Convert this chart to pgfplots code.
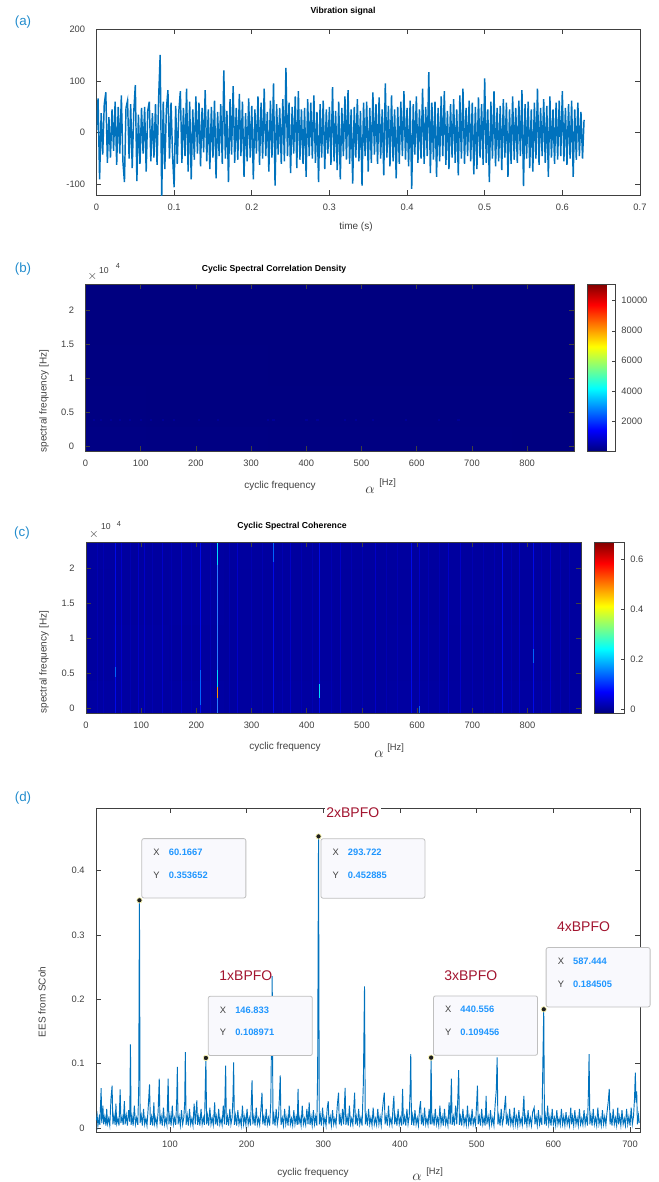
\documentclass[border=0pt]{standalone}
\usepackage{fontspec}
\setmainfont{Liberation Sans}
\usepackage{pgfplots}
\pgfplotsset{compat=1.18}
\pgfkeys{/pgf/number format/assume math mode=true, /pgf/number format/1000 sep={}}
\definecolor{mblue}{HTML}{0072BD}
\definecolor{tagblue}{HTML}{228CCD}
\definecolor{bpfo}{HTML}{A2142F}
\definecolor{tipval}{HTML}{1F96FF}
\definecolor{tipbg}{HTML}{F9F9FD}
\definecolor{axgray}{HTML}{404040}
\definecolor{sk0}{RGB}{0,0,178}
\definecolor{sk1}{RGB}{0,0,200}
\definecolor{sk2}{RGB}{0,10,232}
\definecolor{sk3}{RGB}{40,125,255}
\definecolor{skc}{RGB}{0,220,255}
\definecolor{sko}{RGB}{255,150,0}
\definecolor{skb}{RGB}{0,100,255}
\definecolor{rowb}{RGB}{0,0,150}
\pgfplotsset{
  mat/.style={scale only axis, anchor=south west,
    axis line style={axgray, line width=.5pt}, tick style={axgray, line width=.5pt},
    major tick length=3.5pt, tick align=inside,
    ticklabel style={font=\fontsize{7}{8}\selectfont, text=axgray},
    yticklabel style={xshift=-5pt}, xticklabel style={yshift=-3pt}},
  cbar/.style={colorbar style={at={(parent axis.north east)}, anchor=north west,
    scale only axis, width=#1, tick align=inside, ytick pos=right, yticklabel pos=right,
    major tick length=2.5pt, axis line style={axgray}, tick style={axgray},
    yticklabel style={font=\fontsize{7}{8}\selectfont, text=axgray, xshift=1pt},
    scaled y ticks=false}},
}
\tikzset{tip/.style={draw=black!25, fill=tipbg, rounded corners=1.5pt, line width=.6pt,
    minimum width=78pt, minimum height=44.5pt, inner sep=0pt}}
\newcommand\tipx[3]{%
  \node[anchor=west, text=axgray, font=\fontsize{7}{8}\selectfont] at ([xshift=5.5pt,yshift=-10.7pt]#1.north west) {X};
  \node[anchor=west, text=tipval, font=\fontsize{7}{8}\selectfont\bfseries] at ([xshift=17pt,yshift=-10.7pt]#1.north west) {#2};
  \node[anchor=west, text=axgray, font=\fontsize{7}{8}\selectfont] at ([xshift=5.5pt,yshift=-27.5pt]#1.north west) {Y};
  \node[anchor=west, text=tipval, font=\fontsize{7}{8}\selectfont\bfseries] at ([xshift=17pt,yshift=-27.5pt]#1.north west) {#3};
}
\begin{document}
\begin{tikzpicture}
\useasboundingbox (0,0) rectangle (493.5pt,-886.5pt);

% (a) vibration signal
\begin{axis}[mat, at={(72.375pt,-146.25pt)}, width=407.6pt, height=124.5pt,
  xmin=0, xmax=0.7, ymin=-120, ymax=200,
  xtick={0,0.1,0.2,0.3,0.4,0.5,0.6,0.7}, ytick={-100,0,100,200}]
\addplot[mblue, line width=1.1pt] coordinates {
(0.000,5) (0.002,66) (0.004,-90) (0.006,38) (0.008,-42) (0.010,55) (0.012,78) (0.014,-58) (0.016,30) (0.018,-48)
(0.020,45) (0.022,-35) (0.024,60) (0.026,-62) (0.028,50) (0.030,-40) (0.032,72) (0.034,-55) (0.036,-95) (0.038,48)
(0.040,62) (0.042,-50) (0.044,55) (0.046,-68) (0.048,40) (0.050,92) (0.052,-93) (0.054,35) (0.056,-60) (0.058,48)
(0.060,-40) (0.062,50) (0.064,-75) (0.066,42) (0.068,60) (0.070,-55) (0.072,38) (0.074,-48) (0.076,55) (0.078,-62)
(0.080,65) (0.082,150) (0.084,-125) (0.086,60) (0.088,-70) (0.090,45) (0.092,82) (0.094,-50) (0.096,58) (0.098,-45)
(0.100,-105) (0.102,52) (0.104,-60) (0.106,40) (0.108,80) (0.110,-58) (0.112,48) (0.114,-45) (0.116,85) (0.118,-75)
(0.120,60) (0.122,-90) (0.124,45) (0.126,-52) (0.128,70) (0.130,-40) (0.132,58) (0.134,-65) (0.136,48) (0.138,-38)
(0.140,82) (0.142,-55) (0.144,45) (0.146,-70) (0.148,50) (0.150,-48) (0.152,62) (0.154,-88) (0.156,40) (0.158,-45)
(0.160,55) (0.162,-60) (0.164,120) (0.166,-50) (0.168,42) (0.170,-95) (0.172,65) (0.174,-42) (0.176,90) (0.178,-58)
(0.180,48) (0.182,-52) (0.184,75) (0.186,-45) (0.188,60) (0.190,-85) (0.192,38) (0.194,-55) (0.196,66) (0.198,-48)
(0.200,52) (0.202,-90) (0.204,45) (0.206,-40) (0.208,70) (0.210,-62) (0.212,58) (0.214,-50) (0.216,85) (0.218,-45)
(0.220,40) (0.222,-75) (0.224,62) (0.226,-48) (0.228,95) (0.230,-102) (0.232,55) (0.234,-42) (0.236,48) (0.238,-60)
(0.240,65) (0.242,-55) (0.244,125) (0.246,-45) (0.248,58) (0.250,-78) (0.252,50) (0.254,-40) (0.256,70) (0.258,-68)
(0.260,80) (0.262,-52) (0.264,45) (0.266,-60) (0.268,48) (0.270,-85) (0.272,65) (0.274,-45) (0.276,58) (0.278,-50)
(0.280,72) (0.282,-58) (0.284,40) (0.286,-95) (0.288,55) (0.290,-48) (0.292,62) (0.294,-70) (0.296,45) (0.298,-40)
(0.300,50) (0.302,-62) (0.304,88) (0.306,-55) (0.308,42) (0.310,-72) (0.312,60) (0.314,-90) (0.316,48) (0.318,-45)
(0.320,70) (0.322,-52) (0.324,82) (0.326,-60) (0.328,45) (0.330,-98) (0.332,50) (0.334,-48) (0.336,65) (0.338,-55)
(0.340,42) (0.342,-102) (0.344,58) (0.346,-45) (0.348,60) (0.350,-75) (0.352,48) (0.354,-58) (0.356,78) (0.358,-42)
(0.360,55) (0.362,-60) (0.364,68) (0.366,-50) (0.368,45) (0.370,-82) (0.372,95) (0.374,-48) (0.376,52) (0.378,-65)
(0.380,72) (0.382,-55) (0.384,45) (0.386,-88) (0.388,50) (0.390,-60) (0.392,60) (0.394,-45) (0.396,80) (0.398,-52)
(0.400,48) (0.402,-65) (0.404,62) (0.406,-108) (0.408,55) (0.410,-42) (0.412,70) (0.414,-58) (0.416,45) (0.418,-50)
(0.420,85) (0.422,-60) (0.424,50) (0.426,-45) (0.428,117) (0.430,-78) (0.432,58) (0.434,-52) (0.436,60) (0.438,-85)
(0.440,48) (0.442,-55) (0.444,70) (0.446,-45) (0.448,80) (0.450,-62) (0.452,42) (0.454,-70) (0.456,55) (0.458,-48)
(0.460,65) (0.462,-58) (0.464,45) (0.466,-82) (0.468,72) (0.470,-50) (0.472,85) (0.474,-60) (0.476,48) (0.478,-45)
(0.480,62) (0.482,-55) (0.484,58) (0.486,-80) (0.488,50) (0.490,-70) (0.492,68) (0.494,-48) (0.496,55) (0.498,-62)
(0.500,105) (0.502,-58) (0.504,45) (0.506,-95) (0.508,60) (0.510,-50) (0.512,80) (0.514,-65) (0.516,48) (0.518,-55)
(0.520,52) (0.522,-72) (0.524,65) (0.526,-48) (0.528,58) (0.530,-85) (0.532,45) (0.534,-60) (0.536,70) (0.538,-52)
(0.540,48) (0.542,-58) (0.544,62) (0.546,-45) (0.548,82) (0.550,-103) (0.552,55) (0.554,-50) (0.556,60) (0.558,-68)
(0.560,45) (0.562,-75) (0.564,58) (0.566,-50) (0.568,85) (0.570,-62) (0.572,48) (0.574,-45) (0.576,65) (0.578,-58)
(0.580,52) (0.582,-85) (0.584,70) (0.586,-48) (0.588,45) (0.590,-60) (0.592,58) (0.594,-52) (0.596,62) (0.598,-45)
(0.600,80) (0.602,-55) (0.604,48) (0.606,-62) (0.608,55) (0.610,-50) (0.612,62) (0.614,-85) (0.616,45) (0.618,-52)
(0.620,58) (0.622,-45) (0.624,40) (0.626,-50) (0.628,25)};
\end{axis}

% (b) cyclic spectral correlation density
\begin{axis}[mat, axis on top, at={(64.125pt,-338.25pt)}, width=366.4pt, height=125.25pt,
  xmin=0, xmax=885, ymin=-650, ymax=23800,
  xtick={0,100,200,300,400,500,600,700,800},
  ytick={0,5000,10000,15000,20000}, yticklabels={0,0.5,1,1.5,2}, scaled y ticks=false,
  colormap/jet, point meta min=0, point meta max=11100,
  colorbar, cbar=21pt, colorbar style={xshift=1.5pt, height=125.25pt,
    ytick={2000,4000,6000,8000,10000}}]
\addplot[matrix plot*, mesh/cols=5, point meta=explicit] coordinates {
(0,0)[40] (221.25,0)[30] (442.5,0)[25] (663.75,0)[20] (885,0)[15]
(0,6000)[20] (221.25,6000)[15] (442.5,6000)[12] (663.75,6000)[10] (885,6000)[8]
(0,12000)[8] (221.25,12000)[6] (442.5,12000)[5] (663.75,12000)[5] (885,12000)[4]
(0,18000)[5] (221.25,18000)[4] (442.5,18000)[4] (663.75,18000)[3] (885,18000)[3]
(0,24000)[3] (221.25,24000)[3] (442.5,24000)[2] (663.75,24000)[2] (885,24000)[2]};
\addplot[only marks, mark=square*, mark size=.5pt, rowb] coordinates {
(15,3900) (28,3900) (46,3900) (62,3900) (80,3900) (100,3900) (118,3900) (140,3900)
(160,3900) (205,3900) (240,3900) (330,3900) (340,3900) (400,3900) (420,3900)
(470,3900) (490,3900) (520,3900) (580,3900) (640,3900) (675,3900)};
\end{axis}

% (c) cyclic spectral coherence
\begin{axis}[mat, axis on top, at={(64.5pt,-534.75pt)}, width=371.25pt, height=128.25pt,
  xmin=0, xmax=897, ymin=-650, ymax=23800,
  xtick={0,100,200,300,400,500,600,700,800},
  ytick={0,5000,10000,15000,20000}, yticklabels={0,0.5,1,1.5,2}, scaled y ticks=false,
  colormap/jet, point meta min=-0.015, point meta max=0.67,
  colorbar, cbar=22.5pt, colorbar style={xshift=1.5pt, height=128.25pt,
    ytick={0,0.2,0.4,0.6}}]
\addplot[matrix plot*, mesh/cols=10, point meta=explicit] coordinates {
(0,0)[0.008] (100,0)[0.007] (200,0)[0.008] (300,0)[0.006] (400,0)[0.007] (500,0)[0.006] (600,0)[0.007] (700,0)[0.006] (800,0)[0.007] (900,0)[0.006]
(0,8000)[0.006] (100,8000)[0.007] (200,8000)[0.006] (300,8000)[0.005] (400,8000)[0.006] (500,8000)[0.005] (600,8000)[0.006] (700,8000)[0.005] (800,8000)[0.006] (900,8000)[0.005]
(0,16000)[0.006] (100,16000)[0.006] (200,16000)[0.007] (300,16000)[0.005] (400,16000)[0.006] (500,16000)[0.005] (600,16000)[0.005] (700,16000)[0.006] (800,16000)[0.005] (900,16000)[0.005]
(0,24000)[0.007] (100,24000)[0.006] (200,24000)[0.007] (300,24000)[0.006] (400,24000)[0.006] (500,24000)[0.006] (600,24000)[0.006] (700,24000)[0.006] (800,24000)[0.006] (900,24000)[0.006]};
\addplot[sk0, line width=.45pt, unbounded coords=jump] coordinates {
(20,-700) (20,24000) (20,nan) (32,-700) (32,24000) (32,nan) (80,-700) (80,24000) (80,nan)
(120,-700) (120,24000) (120,nan) (155,-700) (155,24000) (155,nan) (190,-700) (190,24000) (190,nan)
(225,-700) (225,24000) (225,nan) (260,-700) (260,24000) (260,nan) (300,-700) (300,24000) (300,nan)
(320,-700) (320,24000) (320,nan) (355,-700) (355,24000) (355,nan) (390,-700) (390,24000) (390,nan)
(410,-700) (410,24000) (410,nan) (445,-700) (445,24000) (445,nan) (480,-700) (480,24000) (480,nan)
(500,-700) (500,24000) (500,nan) (545,-700) (545,24000) (545,nan) (565,-700) (565,24000) (565,nan)
(620,-700) (620,24000) (620,nan) (640,-700) (640,24000) (640,nan) (700,-700) (700,24000) (700,nan)
(720,-700) (720,24000) (720,nan) (740,-700) (740,24000) (740,nan) (770,-700) (770,24000) (770,nan)
(825,-700) (825,24000) (825,nan) (860,-700) (860,24000) (860,nan) (875,-700) (875,24000)};
\addplot[sk1, line width=.45pt, unbounded coords=jump] coordinates {
(64,-700) (64,24000) (64,nan) (94,-700) (94,24000) (94,nan) (105,-700) (105,24000) (105,nan)
(138,-700) (138,24000) (138,nan) (173,-700) (173,24000) (173,nan) (275,-700) (275,24000) (275,nan)
(370,-700) (370,24000) (370,nan) (460,-700) (460,24000) (460,nan) (525,-700) (525,24000) (525,nan)
(604,-700) (604,24000) (604,nan) (657,-700) (657,24000) (657,nan) (679,-700) (679,24000) (679,nan)
(785,-700) (785,24000) (785,nan) (842,-700) (842,24000)};
\addplot[sk2, line width=.5pt, unbounded coords=jump] coordinates {
(52.8,-700) (52.8,24000) (52.8,nan) (207,-700) (207,24000) (207,nan) (340,-700) (340,24000) (340,nan)
(423,-700) (423,24000) (423,nan) (589,-700) (589,24000) (589,nan) (755,-700) (755,24000) (755,nan)
(810,-700) (810,24000)};
\addplot[sk3, line width=.6pt] coordinates {(239,-700) (239,24000)};
\addplot[skb, line width=.6pt, unbounded coords=jump] coordinates {
(207,500) (207,5500) (207,nan) (810,6500) (810,8500) (810,nan) (340,21000) (340,24000) (340,nan)
(604,-700) (604,400) (604,nan) (52.8,4500) (52.8,6000)};
\addplot[skc, line width=.6pt, unbounded coords=jump] coordinates {
(239,3000) (239,5500) (239,nan) (239,20500) (239,24000) (239,nan) (423,1500) (423,3500)};
\addplot[sko, line width=.6pt] coordinates {(239,1500) (239,3000)};
\end{axis}

% (d) enhanced envelope spectrum
\begin{axis}[mat, clip mode=individual, at={(72pt,-849pt)}, width=408pt, height=243pt,
  xmin=3.5, xmax=713, ymin=-0.006, ymax=0.497,
  xtick={100,200,300,400,500,600,700}, ytick={0,0.1,0.2,0.3,0.4}]
\addplot[mblue, line width=.7pt] coordinates {
(4,0.012) (5,0.02) (6,0.004) (7.5,0.016) (8.5,0.005)
(10.2,0.062) (11,0.008) (12.5,0.035) (13.5,0.006) (15,0.018) (16.5,0.004) (17.5,0.03) (18.5,0.007)
(20,0.015) (21.5,0.004) (23,0.045) (24.5,0.066) (25.5,0.006) (27,0.02) (28.5,0.005) (29.5,0.038)
(30.5,0.007) (32,0.015) (33.5,0.004) (35,0.06) (36,0.008) (37.5,0.018) (39,0.005)
(40.5,0.042) (41.5,0.006) (43,0.02) (44.5,0.004) (46,0.028) (47.5,0.01) (48.4,0.130) (49.3,0.005)
(50.5,0.018) (52,0.004) (53.5,0.035) (55,0.006) (56.5,0.016) (58,0.005) (59.2,0.06) (60.1667,0.353652) (61,0.008)
(62.5,0.02) (64,0.004) (65.5,0.03) (67,0.006) (68.5,0.015) (70,0.004)
(71.5,0.03) (73.3,0.068) (74.5,0.005) (76,0.018) (77.5,0.004) (79,0.04)
(80,0.007) (81.5,0.016) (83,0.004) (84.5,0.025) (86,0.077) (87,0.006) (88.5,0.018)
(90,0.004) (91.5,0.032) (93,0.006) (94.5,0.015) (96,0.005) (97.6,0.077) (98.6,0.006)
(100,0.02) (101.5,0.004) (103,0.035) (104.5,0.006) (106,0.016) (107.5,0.005) (108.8,0.045) (109.6,0.095) (110.5,0.006)
(112,0.018) (113.5,0.004) (115,0.028) (116.5,0.006) (118,0.016) (119.2,0.04) (120,0.118) (121,0.005)
(122.5,0.02) (124,0.004) (125.5,0.03) (127,0.006) (128.5,0.015)
(130,0.004) (131.5,0.038) (133,0.006) (135,0.043) (136,0.005) (137.5,0.018) (139,0.004)
(140.5,0.03) (142,0.006) (143.5,0.016) (145,0.005) (146.833,0.108971) (147.8,0.006) (149,0.02)
(150.5,0.004) (152,0.032) (153.5,0.006) (155,0.016) (156.5,0.005) (158.3,0.04) (159.3,0.006)
(160.5,0.018) (162,0.004) (163.5,0.03) (165,0.006) (166.5,0.015) (168,0.005) (169.5,0.035)
(171,0.006) (172.6,0.097) (173.5,0.005) (175,0.018) (176.5,0.004) (178,0.03) (179.5,0.006)
(181,0.016) (182.2,0.05) (183,0.102) (184,0.005) (185.5,0.02) (187,0.004) (188.5,0.028)
(190,0.006) (191.5,0.015) (193,0.004) (194.5,0.035) (196,0.006) (197.5,0.018) (199,0.005)
(200.5,0.03) (202,0.006) (203.5,0.016) (205,0.004) (206.2,0.045) (207,0.074) (208,0.006) (209.5,0.018)
(211,0.004) (212.5,0.032) (214,0.006) (215.5,0.015) (217,0.005) (218.5,0.028) (220,0.055) (221,0.006)
(222.5,0.018) (224,0.004) (225.5,0.03) (227,0.006) (228.5,0.016)
(230,0.004) (231.5,0.04) (233.3,0.236) (234.3,0.006) (235.5,0.02) (237,0.004) (238.5,0.03)
(240,0.006) (241.5,0.018) (242.8,0.05) (243.8,0.082) (244.8,0.005) (246.5,0.016) (248,0.004) (249.5,0.03)
(251,0.006) (252.5,0.018) (254,0.004) (255.5,0.035) (257,0.006) (258.5,0.015)
(260,0.004) (261.5,0.028) (263,0.006) (264.5,0.018) (266,0.005) (267,0.061) (268,0.006) (269.5,0.016)
(271,0.004) (272.5,0.035) (274,0.006) (275.5,0.015) (277,0.005) (278.5,0.03)
(280,0.006) (281.6,0.04) (282.6,0.005) (284,0.018) (285.5,0.004) (287,0.028) (288.5,0.006)
(290,0.018) (291.5,0.004) (292.6,0.09) (293.722,0.452885) (294.7,0.006) (296,0.02) (297.5,0.004) (299,0.032)
(300.5,0.006) (302,0.016) (303.5,0.004) (305,0.03) (306.4,0.042) (307.4,0.006) (309,0.018)
(310.5,0.004) (312,0.028) (313.5,0.006) (315,0.015) (316.5,0.005) (318.2,0.035) (319.8,0.055) (320.8,0.006)
(322,0.018) (323.5,0.004) (325,0.03) (326.5,0.006) (328.4,0.0625) (329.4,0.005)
(331,0.018) (332.5,0.004) (334,0.035) (335.5,0.006) (337,0.015) (338.5,0.005)
(340.8,0.055) (341.8,0.006) (343,0.018) (344.5,0.004) (346,0.03) (347.5,0.006) (349,0.016)
(350.5,0.004) (352.2,0.07) (353.7,0.22) (354.7,0.006) (356,0.02) (357.5,0.004) (359,0.03)
(360.5,0.006) (362,0.016) (363.5,0.004) (365,0.032) (366.5,0.006) (368,0.015) (369.5,0.005)
(371,0.03) (372.5,0.006) (374,0.018) (375.5,0.004) (377,0.028) (378.5,0.045) (379.5,0.055) (380.5,0.006)
(382,0.018) (383.5,0.004) (385,0.035) (386.5,0.006) (388,0.015) (389.5,0.005)
(391,0.035) (392,0.05) (393,0.006) (394.5,0.018) (396,0.004) (397.5,0.03) (399,0.006)
(400.5,0.016) (402,0.004) (403.4,0.061) (404.4,0.006) (406,0.018) (407.5,0.004) (409,0.03)
(410.5,0.006) (412,0.018) (413.2,0.06) (414,0.115) (415,0.005) (416.5,0.02) (418,0.004) (419.5,0.028)
(421,0.006) (422.5,0.016) (424,0.004) (425.5,0.03) (426.8,0.042) (427.8,0.006) (429,0.018)
(430.5,0.004) (432,0.032) (433.5,0.006) (435,0.015) (436.5,0.005) (438,0.03) (439.5,0.006)
(440.556,0.109456) (441.5,0.006) (443,0.018) (444.5,0.004) (446,0.03) (447.5,0.006) (449,0.016)
(450.5,0.004) (452,0.035) (453.5,0.006) (455,0.018) (456.5,0.004) (458,0.03) (459.5,0.006)
(461,0.015) (462.5,0.004) (464,0.04) (465.5,0.006) (467,0.077) (468,0.005) (469.5,0.018)
(471,0.004) (472.5,0.035) (474,0.006) (475.5,0.05) (476.5,0.09) (477.5,0.005) (479,0.018)
(480.5,0.004) (482,0.03) (483.5,0.006) (485,0.016) (486.5,0.005) (488,0.035) (489.5,0.006)
(491,0.018) (492.5,0.004) (494,0.03) (495.5,0.006) (497,0.015) (498.5,0.005)
(500,0.04) (501,0.066) (502,0.006) (503.5,0.018) (505,0.004) (506.5,0.03) (508,0.006) (509.5,0.016)
(511,0.004) (512.3,0.05) (513.3,0.006) (515,0.018) (516.5,0.004) (518,0.028) (519.5,0.006)
(521,0.016) (522.5,0.004) (524,0.035) (525.6,0.06) (526.7,0.11) (527.7,0.006) (529,0.018)
(530.5,0.004) (532,0.03) (533.5,0.006) (535,0.015) (536.5,0.035) (537.7,0.05) (538.7,0.006)
(540,0.018) (541.5,0.004) (543,0.03) (544.5,0.006) (546,0.016) (547.5,0.004) (549,0.032)
(550.5,0.006) (552,0.018) (553.5,0.004) (555,0.028) (556.5,0.006) (558,0.015) (559.5,0.005)
(560.8,0.035) (561.6,0.05) (562.6,0.006) (564,0.018) (565.5,0.004) (567,0.028) (568.5,0.006)
(570,0.016) (571.5,0.004) (573,0.025) (575,0.032) (576,0.006) (577.5,0.018) (579,0.004)
(580.5,0.028) (582,0.006) (583.5,0.016) (585,0.005) (586.4,0.108) (587.444,0.184505) (588.4,0.006) (589.5,0.02)
(591,0.004) (592.5,0.035) (594,0.006) (595.5,0.018) (597,0.004) (598.5,0.03)
(600,0.006) (601.5,0.016) (603,0.004) (604.5,0.028) (606,0.006) (607.5,0.015) (609,0.005)
(610.5,0.03) (612,0.006) (613.5,0.018) (615,0.004) (616.5,0.025) (618,0.006) (619.5,0.016)
(621,0.004) (622.7,0.032) (623.7,0.006) (625,0.018) (626.5,0.004) (628,0.028) (629.5,0.006)
(631,0.016) (632.5,0.004) (634,0.03) (635.5,0.006) (637,0.015) (638.5,0.005)
(640,0.028) (641.5,0.006) (643,0.018) (644.5,0.004) (645.8,0.06) (646.6,0.115) (647.6,0.006) (649,0.02)
(650.5,0.004) (652,0.03) (653.5,0.006) (655,0.016) (656.5,0.004) (658,0.032) (659.5,0.006)
(661,0.015) (662.5,0.004) (664,0.028) (665.5,0.006) (667,0.018) (668.5,0.005)
(670,0.025) (671.5,0.04) (672.9,0.061) (673.9,0.006) (675,0.018) (676.5,0.004) (678,0.03) (679.5,0.006)
(681,0.016) (682.5,0.004) (684,0.032) (685,0.006) (686.5,0.018) (688,0.004) (689.5,0.028)
(691,0.006) (692.5,0.015) (694,0.004) (695.5,0.03) (697,0.006) (698.5,0.018)
(700,0.004) (701.5,0.032) (703,0.006) (704.5,0.018) (705.8,0.045) (706.9,0.086) (707.8,0.04) (708.7,0.057) (709.6,0.006) (711,0.02) (712,0.008)};
\addplot[only marks, mark=*, mark size=2pt, mark options={fill=black!88, draw=yellow!30, line width=.5pt}]
  coordinates {(60.1667,0.353652) (146.833,0.108971) (293.722,0.452885) (440.556,0.109456) (587.444,0.184505)};
\node[tip, anchor=south west] (t1) at ([xshift=1.5pt,yshift=1.5pt]axis cs:60.1667,0.353652) {};
\tipx{t1}{60.1667}{0.353652}
\node[tip, anchor=north west] (t2) at ([xshift=1.5pt,yshift=-1.5pt]axis cs:293.722,0.452885) {};
\tipx{t2}{293.722}{0.452885}
\node[tip, anchor=south west] (t3) at ([xshift=1.5pt,yshift=1.5pt]axis cs:146.833,0.108971) {};
\tipx{t3}{146.833}{0.108971}
\node[tip, anchor=south west] (t4) at ([xshift=1.5pt,yshift=1.5pt]axis cs:440.556,0.109456) {};
\tipx{t4}{440.556}{0.109456}
\node[tip, anchor=south west] (t5) at ([xshift=1.5pt,yshift=1.5pt]axis cs:587.444,0.184505) {};
\tipx{t5}{587.444}{0.184505}
\node[text=bpfo, font=\fontsize{10.5}{12}\selectfont, fill=white, inner sep=1pt] at (axis cs:338.4,0.490) {2xBPFO};
\node[text=bpfo, font=\fontsize{10.5}{12}\selectfont, inner sep=1pt] at (axis cs:199,0.237) {1xBPFO};
\node[text=bpfo, font=\fontsize{10.5}{12}\selectfont, inner sep=1pt] at (axis cs:492.3,0.237) {3xBPFO};
\node[text=bpfo, font=\fontsize{10.5}{12}\selectfont, inner sep=1pt] at (axis cs:639.4,0.312) {4xBPFO};
\end{axis}

% titles, labels and panel tags (pixel grid of the reference)
\begin{scope}[x=0.75pt, y=-0.75pt]
\foreach \t/\px/\py in {a/23/22, b/23/269, c/22/533, d/23/798}
  \node[text=tagblue, font=\fontsize{10}{12}\selectfont] at (\px,\py) {(\t)};
\node[font=\fontsize{6.5}{8}\selectfont\bfseries] at (343,11) {Vibration signal};
\node[font=\fontsize{6.5}{8}\selectfont\bfseries] at (274,269) {Cyclic Spectral Correlation Density};
\node[font=\fontsize{6.5}{8}\selectfont\bfseries] at (292,526) {Cyclic Spectral Coherence};
\node[text=axgray, font=\fontsize{7.5}{9}\selectfont] at (356,227) {time (s)};
\node[text=axgray, font=\fontsize{7.5}{9}\selectfont] at (280,486) {cyclic frequency};
\node[text=axgray, font=\fontsize{7.5}{9}\selectfont] at (285,747) {cyclic frequency};
\node[text=axgray, font=\fontsize{7.5}{9}\selectfont] at (313,1173) {cyclic frequency};
\node[text=axgray, font=\fontsize{11}{12}\selectfont] at (370,490) {$\alpha$};
\node[text=axgray, font=\fontsize{11}{12}\selectfont] at (379,754) {$\alpha$};
\node[text=axgray, font=\fontsize{11}{12}\selectfont] at (417,1177) {$\alpha$};
\node[anchor=west, inner sep=0pt, text=axgray, font=\fontsize{7}{8}\selectfont] at (379,483) {[Hz]};
\node[anchor=west, inner sep=0pt, text=axgray, font=\fontsize{7}{8}\selectfont] at (387,748) {[Hz]};
\node[anchor=west, inner sep=0pt, text=axgray, font=\fontsize{7}{8}\selectfont] at (426,1172) {[Hz]};
\node[rotate=90, text=axgray, font=\fontsize{7.5}{9}\selectfont] at (44,401) {spectral frequency [Hz]};
\node[rotate=90, text=axgray, font=\fontsize{7.5}{9}\selectfont] at (44,662) {spectral frequency [Hz]};
\node[rotate=90, text=axgray, font=\fontsize{7.5}{9}\selectfont] at (42,1002) {EES from SCoh};
\node[text=axgray, font=\fontsize{9}{10}\selectfont] at (92.5,276) {$\times$};
\node[text=axgray, font=\fontsize{6.5}{8}\selectfont] at (104,271) {10};
\node[text=axgray, font=\fontsize{5.5}{7}\selectfont] at (118,266) {4};
\node[text=axgray, font=\fontsize{9}{10}\selectfont] at (94,534) {$\times$};
\node[text=axgray, font=\fontsize{6.5}{8}\selectfont] at (106,527) {10};
\node[text=axgray, font=\fontsize{5.5}{7}\selectfont] at (119,524) {4};
\end{scope}
\end{tikzpicture}
\end{document}
